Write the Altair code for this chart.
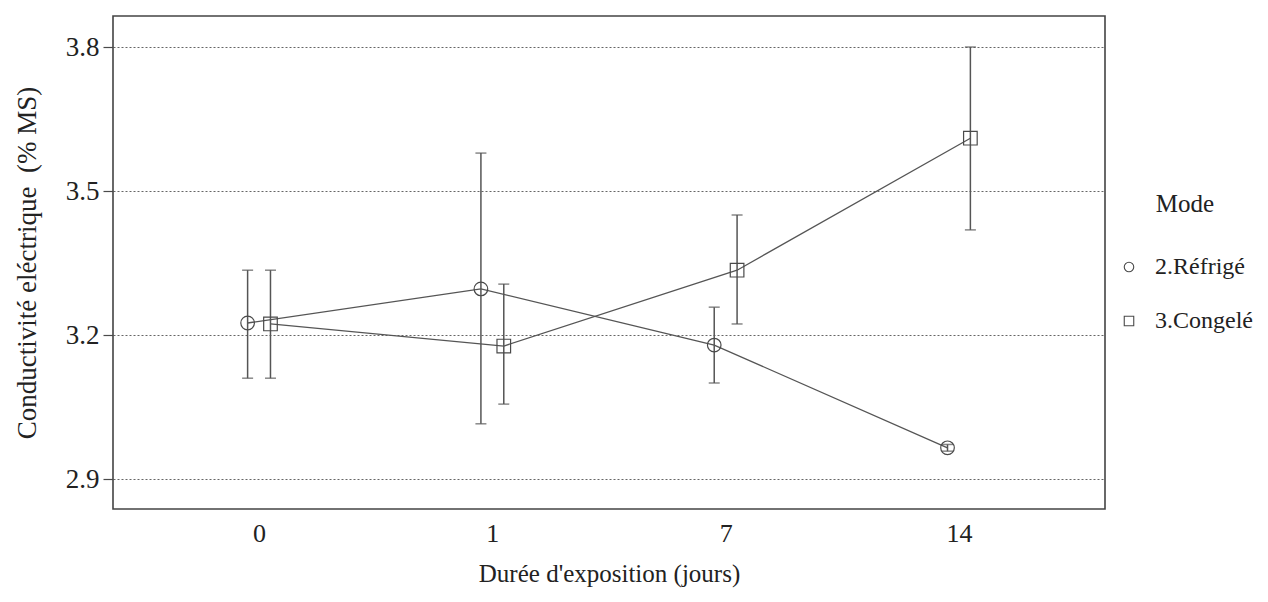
import json
import altair as alt
import pandas as pd

# ---- data ----
days = ["0", "1", "7", "14"]
modes = ["2.Réfrigé", "3.Congelé"]

refrig_mean = [3.225, 3.296, 3.179, 2.965]
refrig_low = [3.110, 3.015, 3.100, 2.958]
refrig_high = [3.335, 3.579, 3.258, 2.972]

cong_mean = [3.223, 3.177, 3.335, 3.610]
cong_low = [3.110, 3.056, 3.223, 3.419]
cong_high = [3.335, 3.306, 3.450, 3.800]

y_ticks = [2.9, 3.2, 3.5, 3.8]

rows = []
for i, d in enumerate(days):
    rows.append({"idx": i, "jour": d, "Mode": modes[0], "m": refrig_mean[i],
                 "lo": refrig_low[i], "hi": refrig_high[i]})
    rows.append({"idx": i, "jour": d, "Mode": modes[1], "m": cong_mean[i],
                 "lo": cong_low[i], "hi": cong_high[i]})
df = pd.DataFrame(rows)

FONT = "Liberation Serif"
INK = "#4a4a4a"

base = alt.Chart(df).transform_calculate(
    xpos=f"datum.idx + (datum.Mode == '{modes[0]}' ? -0.049 : 0.049)"
)

xscale = alt.Scale(domain=[-0.626, 3.626], nice=False, zero=False)
yscale = alt.Scale(domain=[2.8375, 3.8646], nice=False, zero=False)

label_expr = f"{json.dumps(days)}[datum.value]"

x_enc = alt.X("xpos:Q", scale=xscale, title="Durée d'exposition (jours)",
              axis=alt.Axis(values=[0, 1, 2, 3], labelExpr=label_expr, grid=False,
                            ticks=False, tickSize=0, domain=False, labelPadding=11,
                            titlePadding=15, labelFontSize=26, titleFontSize=25))
y_enc = alt.Y("m:Q", scale=yscale, title="Conductivité eléctrique \u00a0(% MS)",
              axis=alt.Axis(values=y_ticks, format=".1f", grid=True, gridDash=[2, 2],
                            gridColor="#666", gridWidth=1, domain=False, tickSize=10,
                            tickColor=INK, tickWidth=1.2, labelPadding=4, titlePadding=24,
                            labelFontSize=27, titleFontSize=27))

lines = base.mark_line(color="#555", strokeWidth=1.3).encode(
    x=x_enc, y=y_enc, detail="Mode:N", order="idx:Q"
)

bars = base.mark_rule(color="#555", strokeWidth=1.5).encode(
    x="xpos:Q", y="lo:Q", y2="hi:Q"
)
cap_lo = base.mark_tick(color="#555", orient="horizontal", size=11, thickness=1.5).encode(
    x="xpos:Q", y="lo:Q"
)
cap_hi = base.mark_tick(color="#555", orient="horizontal", size=11, thickness=1.5).encode(
    x="xpos:Q", y="hi:Q"
)

points = base.mark_point(filled=False, color=INK, strokeWidth=1.2, opacity=1, size=185).encode(
    x="xpos:Q", y="m:Q",
    shape=alt.Shape("Mode:N", scale=alt.Scale(domain=modes, range=["circle", "square"]),
                    legend=alt.Legend(title="Mode", orient="none", legendX=1004, legendY=176,
                                      titleAnchor="middle", titlePadding=38, rowPadding=30,
                                      symbolSize=90, symbolStrokeColor=INK,
                                      symbolFillColor="transparent", symbolStrokeWidth=1.1,
                                      labelOffset=14, padding=0)),
)

chart = alt.layer(lines, bars, cap_lo, cap_hi, points).properties(
    width=992, height=493,
    padding={"left": 105, "top": 8, "right": 152, "bottom": 84},
    autosize=alt.AutoSizeParams(type="none"),
).configure_view(
    stroke="#444", strokeWidth=1.6
).configure_axis(
    labelFont=FONT, titleFont=FONT,
    labelColor="#222", titleColor="#222", titleFontWeight="normal"
).configure_legend(
    labelFont=FONT, titleFont=FONT, labelFontSize=24, titleFontSize=25,
    labelColor="#222", titleColor="#222", titleFontWeight="normal", labelLimit=0
)

chart.save("out.html", embed_options={"renderer": "svg", "actions": False})
